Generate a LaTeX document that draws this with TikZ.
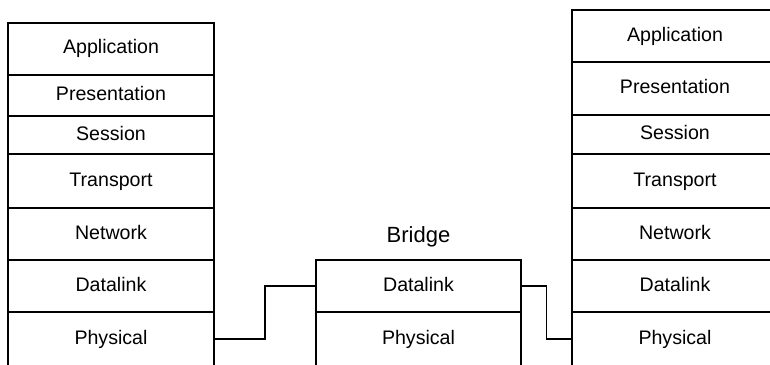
\documentclass[tikz,border=0pt]{standalone}
\usepackage{fontspec}
\setmainfont{Liberation Sans}
\usetikzlibrary{calc}

\begin{document}
\begin{tikzpicture}[x=0.5pt, y=-0.5pt, line width=0.8pt,
  layer/.style={draw, inner sep=0pt, minimum width=103pt,
    text height=7pt, text depth=2pt, font=\fontsize{9.8}{12}\selectfont}]

  \useasboundingbox (0,0) rectangle (770,364);
  \clip (0,0) rectangle (770,364);

  \newcommand\LX{111}
  \newcommand\RX{675}
  \newcommand\BX{418.5}

  %% left stack
  \node[layer, minimum height=26pt] (lapp) at (\LX, 49) {Application};
  \node[layer, minimum height=20.5pt] (lpre) at (\LX, 95.5) {Presentation};
  \node[layer, minimum height=19pt] (lses) at (\LX, 135) {Session};
  \node[layer, minimum height=27pt] (ltra) at (\LX, 181) {Transport};
  \node[layer, minimum height=26pt] (lnet) at (\LX, 234) {Network};
  \node[layer, minimum height=26pt] (ldl) at (\LX, 286) {Datalink};
  \node[layer, minimum height=27pt] (lphy) at (\LX, 339) {Physical};

  %% bridge
  \node[font=\fontsize{11}{13}\selectfont] (blabel) at (\BX, 237) {Bridge};
  \node[layer, minimum width=102.5pt, minimum height=26pt] (bdl) at (\BX, 286) {Datalink};
  \node[layer, minimum width=102.5pt, minimum height=27pt] (bphy) at (\BX, 339) {Physical};

  %% right stack
  \node[layer, minimum height=26pt] (rapp) at (\RX, 36) {Application};
  \node[layer, minimum height=26.5pt] (rpre) at (\RX, 88.5) {Presentation};
  \node[layer, minimum height=19.5pt] (rses) at (\RX, 134.5) {Session};
  \node[layer, minimum height=27pt] (rtra) at (\RX, 181) {Transport};
  \node[layer, minimum height=26pt] (rnet) at (\RX, 234) {Network};
  \node[layer, minimum height=26pt] (rdl) at (\RX, 286) {Datalink};
  \node[layer, minimum height=27pt] (rphy) at (\RX, 339) {Physical};

  %% links
  \draw (lphy.east) -| ($(lphy.east)!.5!(bdl.west)$) |- (bdl.west);
  \draw (bdl.east) -| ($(bdl.east)!.5!(rphy.west)$) |- (rphy.west);

\end{tikzpicture}
\end{document}
